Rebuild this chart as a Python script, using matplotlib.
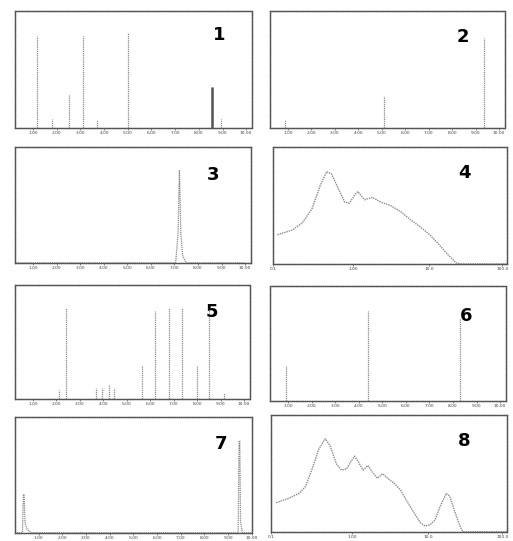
import matplotlib
matplotlib.use("Agg")
import matplotlib.pyplot as plt

# ---- data (x in % of axis span, heights in fraction) ----
p1_pos = [11.5, 18.0, 25.0, 31.0, 37.0, 50.0, 85.6, 89.5]
p1_h   = [0.79, 0.08, 0.28, 0.79, 0.07, 0.81, 0.35, 0.08]

p2_pos = [8.7, 51.0, 93.5]
p2_h   = [0.07, 0.27, 0.77]

p3_x = [0, 70.5, 71.5, 72.1, 72.7, 73.5, 75.0, 100]
p3_y = [0, 0.0, 0.25, 0.80, 0.25, 0.06, 0.0, 0]

p4_x = [0, 6.4, 10.7, 15.0, 18.6, 21.4, 23.6, 26.4, 29.3, 31.4, 33.6, 35.0, 37.9, 41.4, 45.0, 49.3,
        53.6, 57.9, 62.1, 66.4, 70.7, 74.3, 77.9, 80.0, 100]
p4_y = [0.25, 0.29, 0.35, 0.47, 0.67, 0.79, 0.77, 0.65, 0.53, 0.52, 0.59, 0.62, 0.55, 0.57, 0.53, 0.50,
        0.45, 0.38, 0.32, 0.25, 0.16, 0.08, 0.01, 0.0, 0.0]

p5_pos = [20.9, 23.9, 36.8, 39.6, 42.4, 44.5, 56.3, 62.0, 67.9, 73.3, 79.7, 85.0, 91.4]
p5_h   = [0.08, 0.80, 0.10, 0.10, 0.12, 0.10, 0.30, 0.77, 0.80, 0.80, 0.29, 0.80, 0.05]

p6_pos = [9.0, 44.0, 83.0]
p6_h   = [0.30, 0.78, 0.72]

p7_x = [0, 3.2, 3.6, 3.9, 4.3, 5.2, 7.0, 94.2, 94.6, 94.9, 95.2, 96.0, 100]
p7_y = [0, 0.0, 0.33, 0.33, 0.08, 0.03, 0.0, 0.0, 0.79, 0.79, 0.10, 0.0, 0]

p8_x = [0.3, 5.9, 10.2, 13.0, 15.8, 18.7, 21.5, 23.6, 26.4, 28.6, 30.7, 32.8, 34.2, 35.6, 37.8, 39.9,
        42.0, 44.1, 46.3, 48.4, 51.2, 54.0, 56.9, 59.7, 62.5, 64.6, 66.8, 68.9, 71.0, 73.8, 75.2, 77.4,
        78.8, 80.9, 100]
p8_y = [0.25, 0.29, 0.33, 0.39, 0.54, 0.71, 0.80, 0.74, 0.58, 0.53, 0.54, 0.61, 0.65, 0.61, 0.53, 0.57,
        0.51, 0.46, 0.50, 0.46, 0.42, 0.36, 0.26, 0.17, 0.08, 0.05, 0.06, 0.10, 0.21, 0.33, 0.31, 0.18,
        0.10, 0.0, 0.0]

spec_ticks = [10, 20, 30, 40, 50, 60, 70, 80, 90, 100]
spec_labels = ["1.00", "2.00", "3.00", "4.00", "5.00", "6.00", "7.00", "8.00", "9.00", "10.00"]
dist_ticks = [-2, 33, 66, 98]
dist_labels = ["0.1", "1.00", "10.0", "100.0"]

panel_names = ["1", "2", "3", "4", "5", "6", "7", "8"]

# ---- layout ----
fig = plt.figure(figsize=(5.13, 5.41), dpi=100)
rects = [
    (0.029, 0.7634, 0.462, 0.216),
    (0.526, 0.7634, 0.458, 0.216),
    (0.029, 0.5139, 0.460, 0.2144),
    (0.532, 0.5120, 0.456, 0.2160),
    (0.029, 0.2625, 0.458, 0.2107),
    (0.526, 0.2588, 0.460, 0.2126),
    (0.029, 0.0150, 0.462, 0.2150),
    (0.528, 0.0170, 0.460, 0.2150),
]
line_c = "#8a8a8a"
frame_c = "#555555"

axes = [fig.add_axes(r) for r in rects]

def style(ax, ticks, labels, xlim):
    ax.set_xlim(*xlim)
    ax.set_ylim(0, 1)
    ax.set_xticks(ticks)
    ax.set_xticklabels(labels, fontsize=3.2, color="#444444")
    ax.set_yticks([])
    ax.tick_params(axis="x", length=1.5, width=0.5, pad=1.0, color=frame_c)
    for s in ax.spines.values():
        s.set_color(frame_c)
        s.set_linewidth(1.0)
        s.set_linestyle((0, (1, 0.6)))

def spectrum(ax, pos, h):
    ax.vlines(pos, 0, h, colors=line_c, linewidth=0.9, linestyles=(0, (1, 0.7)))

spectrum(axes[0], p1_pos, p1_h)
axes[0].vlines(p1_pos[6], 0, p1_h[6], colors="#555555", linewidth=1.8)
style(axes[0], spec_ticks, spec_labels, (2.3, 102.4))
spectrum(axes[1], p2_pos, p2_h)
style(axes[1], spec_ticks, spec_labels, (2.3, 102.4))
axes[2].plot(p3_x, p3_y, color=line_c, lw=0.9, ls=(0, (1, 0.7)))
style(axes[2], spec_ticks, spec_labels, (2.3, 102.4))
axes[3].plot(p4_x, p4_y, color=line_c, lw=1.0, ls=(0, (1, 0.7)))
style(axes[3], dist_ticks, dist_labels, (0, 100))
spectrum(axes[4], p5_pos, p5_h)
style(axes[4], spec_ticks, spec_labels, (2.3, 102.4))
spectrum(axes[5], p6_pos, p6_h)
style(axes[5], spec_ticks, spec_labels, (2.3, 102.4))
axes[6].plot(p7_x, p7_y, color=line_c, lw=0.9, ls=(0, (1, 0.7)))
style(axes[6], spec_ticks, spec_labels, (0, 100))
axes[7].plot(p8_x, p8_y, color=line_c, lw=1.0, ls=(0, (1, 0.7)))
style(axes[7], dist_ticks, dist_labels, (0, 100))

label_pos = [(0.86, 0.80), (0.82, 0.78), (0.84, 0.76), (0.82, 0.78),
             (0.84, 0.76), (0.83, 0.74), (0.87, 0.76), (0.82, 0.78)]
for ax, name, (lx, ly) in zip(axes, panel_names, label_pos):
    ax.text(lx, ly, name, transform=ax.transAxes, fontsize=13, fontweight="bold",
            color="black", ha="center", va="center")

fig.savefig("out.png", dpi=100)
